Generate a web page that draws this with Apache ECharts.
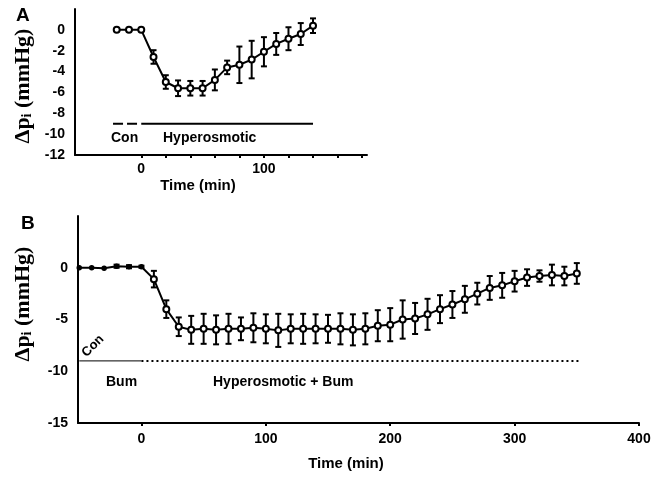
<!DOCTYPE html>
<html><head><meta charset="utf-8">
<script src="https://cdn.jsdelivr.net/npm/echarts@6/dist/echarts.min.js"></script>
<style>html,body{margin:0;padding:0;background:#fff}#c{width:654px;height:477px}</style>
</head><body><div id="c"></div>
<script>
// Panel A data
var timeA = [-20,-10,0,10,20,30,40,50,60,70,80,90,100,110,120,130,140];
var meanA = [0,0,0,-2.6,-5.0,-5.6,-5.6,-5.6,-4.8,-3.6,-3.35,-2.85,-2.1,-1.35,-0.85,-0.4,0.4];
var semA  = [0,0,0,0.65,0.65,0.75,0.7,0.7,1.0,0.65,1.75,1.8,1.4,1.05,1.1,1.05,0.7];
var yTicksA = [-12,-10,-8,-6,-4,-2,0];
var xLabelsA = [0,100];
var xTicksA = [0,20,40,60,80,100,120,140,160,180];
var conBarA = [[-23,-9],[-3,-9]];
var hypBarA = [[0,-9],[140,-9]];

// Panel B data
var timeB = [-50,-40,-30,-20,-10,0,10,20,30,40,50,60,70,80,90,100,110,120,130,140,150,160,170,180,190,200,210,220,230,240,250,260,270,280,290,300,310,320,330,340,350];
var meanB = [0,0,-0.05,0.15,0.1,0.1,-1.1,-4.0,-5.7,-6.0,-5.9,-6.0,-5.9,-5.9,-5.8,-5.9,-6.05,-5.9,-5.9,-5.9,-5.9,-5.9,-6.0,-5.9,-5.6,-5.5,-5.0,-4.9,-4.5,-4.0,-3.55,-3.05,-2.5,-1.95,-1.7,-1.3,-0.95,-0.8,-0.7,-0.8,-0.55];
var semB  = [0,0,0,0.15,0.15,0.1,0.8,0.85,0.9,1.35,1.45,1.4,1.45,1.1,1.4,1.4,1.6,1.4,1.45,1.4,1.35,1.5,1.5,1.5,1.5,1.6,1.85,1.5,1.5,1.35,1.3,1.3,1.05,1.15,1.2,1.0,0.8,0.55,1.0,0.9,1.0];
var yTicksB = [-15,-10,-5,0];
var xTicksB = [0,100,200,300,400];
var conBarB = [[-50,-9],[0,-9]];
var hypBarB = [[0,-9],[352,-9]];

var FONT = '"Liberation Sans", Arial, sans-serif';
function pairs(t, m){ return t.map(function(x,i){ return [x, m[i]]; }); }
function errData(t, m, s){ return t.map(function(x,i){ return [x, m[i]-s[i], m[i]+s[i]]; }); }

function errRender(params, api){
  var x = api.value(0);
  var lo = api.coord([x, api.value(1)]);
  var hi = api.coord([x, api.value(2)]);
  if (Math.abs(lo[1]-hi[1]) < 1) return null;
  var w = 3;
  var st = {stroke:'#000', lineWidth:2};
  return {type:'group', children:[
    {type:'line', shape:{x1:lo[0],y1:lo[1],x2:hi[0],y2:hi[1]}, style:st},
    {type:'line', shape:{x1:lo[0]-w,y1:lo[1],x2:lo[0]+w,y2:lo[1]}, style:st},
    {type:'line', shape:{x1:hi[0]-w,y1:hi[1],x2:hi[0]+w,y2:hi[1]}, style:st}
  ]};
}

var axisLabelStyle = {color:'#000', fontWeight:'bold', fontSize:14, fontFamily:FONT};

var chart = echarts.init(document.getElementById('c'), null, {renderer:'canvas'});
var filledB = timeB.map(function(t,i){ return {value:[t, meanB[i]], symbol: t<=0 ? 'circle':'emptyCircle', symbolSize: t<=0 ? 4 : 6}; });

chart.setOption({
  animation:false,
  backgroundColor:'#fff',
  grid:[
    {left:75, right:287, top:9, bottom:322},
    {left:78, right:15, top:216, bottom:54}
  ],
  xAxis:[
    {gridIndex:0, type:'value', min:-54, max:184,
     axisLine:{onZero:false, lineStyle:{color:'#000', width:2}},
     splitLine:{show:false},
     axisTick:{show:true, customValues:xTicksA, length:3, inside:false, lineStyle:{color:'#000', width:2}},
     axisLabel:Object.assign({customValues:xLabelsA, margin:7}, axisLabelStyle)},
    {gridIndex:1, type:'value', min:-51, max:400,
     axisLine:{onZero:false, lineStyle:{color:'#000', width:2}},
     splitLine:{show:false},
     axisTick:{show:true, customValues:xTicksB, length:3, lineStyle:{color:'#000', width:2}},
     axisLabel:Object.assign({customValues:xTicksB, margin:9}, axisLabelStyle)}
  ],
  yAxis:[
    {gridIndex:0, type:'value', min:-12, max:2,
     axisLine:{show:true, onZero:false, lineStyle:{color:'#000', width:2}},
     splitLine:{show:false}, axisTick:{show:false},
     axisLabel:Object.assign({customValues:yTicksA, margin:10}, axisLabelStyle)},
    {gridIndex:1, type:'value', min:-15, max:5,
     axisLine:{show:true, onZero:false, lineStyle:{color:'#000', width:2}},
     splitLine:{show:false}, axisTick:{show:false},
     axisLabel:Object.assign({customValues:yTicksB, margin:10}, axisLabelStyle)}
  ],
  series:[
    {type:'custom', xAxisIndex:0, yAxisIndex:0, renderItem:errRender, data:errData(timeA,meanA,semA), z:2},
    {type:'line', xAxisIndex:0, yAxisIndex:0, data:pairs(timeA,meanA), symbol:'emptyCircle', symbolSize:6,
     lineStyle:{color:'#000', width:2}, itemStyle:{color:'#000', borderColor:'#000', borderWidth:1.5}, z:3},
    {type:'line', xAxisIndex:0, yAxisIndex:0, data:conBarA, symbol:'none', lineStyle:{color:'#000', width:2, type:[10,4]}},
    {type:'line', xAxisIndex:0, yAxisIndex:0, data:hypBarA, symbol:'none', lineStyle:{color:'#000', width:2}},
    {type:'custom', xAxisIndex:1, yAxisIndex:1, renderItem:errRender, data:errData(timeB,meanB,semB), z:2},
    {type:'line', xAxisIndex:1, yAxisIndex:1, data:filledB,
     lineStyle:{color:'#000', width:2}, itemStyle:{color:'#000', borderColor:'#000', borderWidth:1.5}, z:3},
    {type:'line', xAxisIndex:1, yAxisIndex:1, data:conBarB, symbol:'none', lineStyle:{color:'#000', width:1}},
    {type:'line', xAxisIndex:1, yAxisIndex:1, data:hypBarB, symbol:'none', lineStyle:{color:'#000', width:2, type:[2,3]}}
  ],
  graphic:[
    {type:'text', left:16, top:6, style:{text:'A', font:'bold 19px '+FONT, fill:'#000'}},
    {type:'text', left:21, top:214, style:{text:'B', font:'bold 19px '+FONT, fill:'#000'}},
    {type:'text', left:111, top:131, style:{text:'Con', font:'bold 14px '+FONT, fill:'#000'}},
    {type:'text', left:163, top:131, style:{text:'Hyperosmotic', font:'bold 14px '+FONT, fill:'#000'}},
    {type:'text', x:198, y:186, style:{text:'Time (min)', font:'bold 15px '+FONT, fill:'#000', align:'center', verticalAlign:'middle'}},
    {type:'text', x:346, y:464, style:{text:'Time (min)', font:'bold 15px '+FONT, fill:'#000', align:'center', verticalAlign:'middle'}},
    {type:'text', x:106, y:382, style:{text:'Bum', font:'bold 14px '+FONT, fill:'#000', verticalAlign:'middle'}},
    {type:'text', x:213, y:382, style:{text:'Hyperosmotic + Bum', font:'bold 14px '+FONT, fill:'#000', verticalAlign:'middle'}},
    {type:'text', x:93, y:346, rotation:Math.PI/4, style:{text:'Con', font:'bold 13px '+FONT, fill:'#000', align:'center', verticalAlign:'middle'}},
    {type:'text', x:23, y:86, rotation:Math.PI/2,
     style:{text:'Δp{s|i} (mmHg)', font:'bold 22px "Liberation Serif", serif', fill:'#000', align:'center', verticalAlign:'middle',
            rich:{s:{font:'bold 14px "Liberation Serif", serif', verticalAlign:'bottom', padding:[8,0,0,0]}}}},
    {type:'text', x:23, y:304, rotation:Math.PI/2,
     style:{text:'Δp{s|i} (mmHg)', font:'bold 22px "Liberation Serif", serif', fill:'#000', align:'center', verticalAlign:'middle',
            rich:{s:{font:'bold 14px "Liberation Serif", serif', verticalAlign:'bottom', padding:[8,0,0,0]}}}}
  ]
});
</script></body></html>
